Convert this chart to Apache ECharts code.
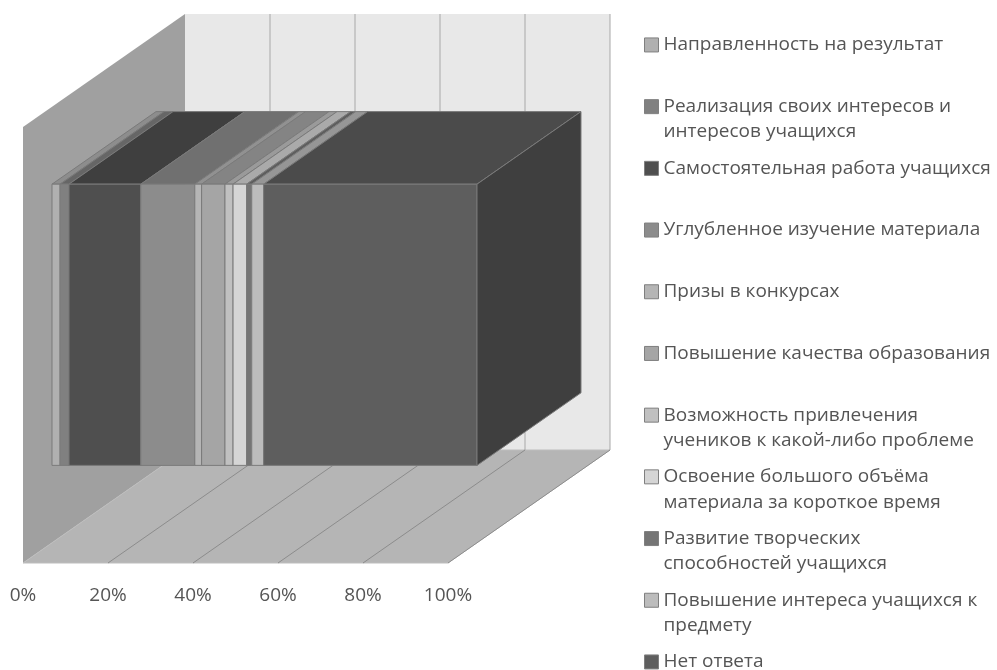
<!DOCTYPE html>
<html>
<head>
<meta charset="utf-8">
<style>
html,body{margin:0;padding:0;background:#fff;}
#chart{width:997px;height:670px;filter:blur(0.5px);}
</style>
<script src="https://cdn.jsdelivr.net/npm/echarts@6/dist/echarts.min.js"></script>
</head>
<body>
<div id="chart"></div>
<script>
var categories = ['Ответы'];
var seriesNames = [
	'Направленность на результат',
	'Реализация своих интересов и\nинтересов учащихся',
	'Самостоятельная работа учащихся',
	'Углубленное изучение материала',
	'Призы в конкурсах',
	'Повышение качества образования',
	'Возможность привлечения\nучеников к какой-либо проблеме',
	'Освоение большого объёма\nматериала за короткое время',
	'Развитие творческих\nспособностей учащихся',
	'Повышение интереса учащихся к\nпредмету',
	'Нет ответа'
];
var seriesValues = [1.9, 2.1, 16.9, 12.7, 1.6, 5.5, 1.9, 3.2, 1.2, 2.8, 50.2];
var seriesColors = ['#b0b0b0', '#808080', '#4f4f4f', '#8c8c8c', '#b5b5b5', '#a5a5a5', '#c0c0c0', '#d5d5d5', '#757575', '#bcbcbc', '#5e5e5e'];
var tickValues = [0, 20, 40, 60, 80, 100];

var depthX = 162, depthY = 113;
var barFront = 0.179, barBack = 0.821, barHeight = 0.645;

// project (value, fraction of wall height, depth 0..1) to pixels
function project(api, value, h, d){
	var p = api.coord([value, 0]);
	var band = api.size([0, 1])[1];
	return [p[0] + depthX * d, p[1] + band / 2 - band * h - depthY * d];
}
// the greys of the top and side faces are the front grey made darker
function shade(hex, k){
	var g = Math.round(parseInt(hex.slice(1, 3), 16) * k);
	return 'rgb(' + g + ',' + g + ',' + g + ')';
}
function poly(points, fill, stroke){
	return {
		type: 'polygon',
		shape: {points: points},
		style: {fill: fill, stroke: stroke || null, lineWidth: stroke ? 1 : 0}
	};
}
function line(a, b, color){
	return {
		type: 'line',
		shape: {x1: a[0], y1: a[1], x2: b[0], y2: b[1]},
		style: {stroke: color, lineWidth: 1}
	};
}

function renderWalls(params, api){
	var c = [];
	function P(v, h, d){ return project(api, v, h, d); }
	c.push(poly([P(0,0,1), P(100,0,1), P(100,1,1), P(0,1,1)], '#e8e8e8'));
	c.push(poly([P(0,0,0), P(0,0,1), P(0,1,1), P(0,1,0)], '#a0a0a0'));
	c.push(poly([P(0,0,0), P(100,0,0), P(100,0,1), P(0,0,1)], '#b5b5b5', '#bdbdbd'));
	tickValues.forEach(function(v){
		if(v > 0){
			c.push(line(P(v,0,1), P(v,1,1), '#a8a8a8'));
			c.push(line(P(v,0,0), P(v,0,1), '#8c8c8c'));
		}
	});
	return {type: 'group', children: c};
}

function renderSegment(index){
	return function(params, api){
		var from = api.value(0), to = api.value(1);
		var low = 0.5 - barHeight / 2, high = 0.5 + barHeight / 2;
		function P(v, h, d){ return project(api, v, h, d); }
		var color = seriesColors[index];
		var edge = '#7a7a7a';
		var c = [
			poly([P(from,high,barFront), P(to,high,barFront), P(to,high,barBack), P(from,high,barBack)], shade(color, 0.8), edge),
			poly([P(from,low,barFront), P(to,low,barFront), P(to,high,barFront), P(from,high,barFront)], color, edge)
		];
		if(index == seriesValues.length - 1){
			c.push(poly([P(to,low,barFront), P(to,low,barBack), P(to,high,barBack), P(to,high,barFront)], shade(color, 0.67), edge));
		}
		return {type: 'group', children: c};
	};
}

var series = [{
	name: 'walls',
	type: 'custom',
	silent: true,
	z: 1,
	renderItem: renderWalls,
	encode: {x: 0, y: 1},
	data: [[0, 0]]
}];
var sum = 0;
seriesNames.forEach(function(name, i){
	series.push({
		name: name,
		type: 'custom',
		z: 2,
		itemStyle: {color: seriesColors[i]},
		renderItem: renderSegment(i),
		encode: {x: [0, 1], y: 2},
		data: [[sum, sum + seriesValues[i], 0]]
	});
	sum += seriesValues[i];
});

var chart = echarts.init(document.getElementById('chart'));
chart.setOption({
	animation: false,
	backgroundColor: '#fff',
	grid: {left: 23, width: 425, top: 127, height: 436},
	xAxis: {
		type: 'value',
		min: 0,
		max: 100,
		interval: 20,
		axisLine: {show: false},
		axisTick: {show: false},
		splitLine: {show: false},
		axisLabel: {
			formatter: '{value}%',
			margin: 23,
			color: '#555555',
			fontFamily: 'Open Sans',
			fontSize: 19,
			showMinLabel: true,
			showMaxLabel: true
		}
	},
	yAxis: {type: 'category', data: categories, show: false},
	legend: {
		orient: 'vertical',
		left: 644,
		top: 7,
		height: 800,
		padding: 0,
		itemGap: -14.2,
		itemWidth: 14,
		itemHeight: 14,
		selectedMode: false,
		data: seriesNames.map(function(name, i){
			return {
				name: name,
				icon: 'rect',
				itemStyle: {color: seriesColors[i], borderColor: '#7f7f7f', borderWidth: 1}
			};
		}),
		// every item takes three lines so that the square stays on the first text line
		formatter: function(name){
			return name.indexOf('\n') >= 0 ? ' \n' + name : ' \n' + name + '\n ';
		},
		textStyle: {
			color: '#555555',
			fontFamily: 'Open Sans',
			fontSize: 19,
			lineHeight: 25.3
		}
	},
	series: series
});
</script>
</body>
</html>
